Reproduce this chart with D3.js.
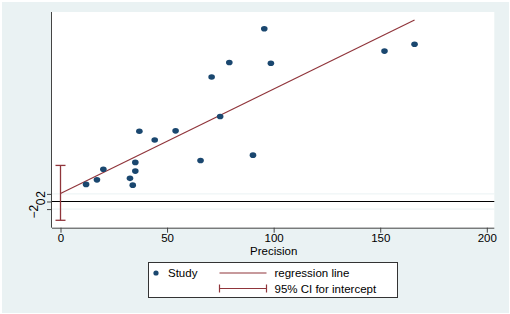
<!DOCTYPE html>
<html><head><meta charset="utf-8">
<script src="https://cdn.jsdelivr.net/npm/d3@7"></script>
<style>body{margin:0;background:#fff}svg{display:block;font-family:"Liberation Sans",Arial,sans-serif}</style>
</head><body><div id="c"></div>
<script>
// Study precision (x) and standardized effect (y)
const precision = [12.0, 17.1, 20.1, 32.6, 33.9, 35.1, 35.1, 37.0, 44.2, 54.0, 65.7, 70.9, 74.9, 79.2, 90.3, 95.6, 98.7, 152.0, 166.1];
const stdEffect = [4.5, 5.7, 8.5, 6.1, 4.3, 8.0, 10.3, 18.5, 16.2, 18.6, 10.8, 32.8, 22.4, 36.6, 12.2, 45.5, 36.4, 39.6, 41.4];
const intercept = 2.1;
const slope = 0.275;
const ciIntercept = [-4.95, 9.5];
const xTicks = [0, 50, 100, 150, 200];
const yTicks = [-2, 0, 2];
const legendLabels = ["Study", "regression line", "95% CI for intercept"];

const W = 510, H = 314;
const svg = d3.select("#c").append("svg").attr("width", W).attr("height", H);
svg.append("rect").attr("x", 0).attr("y", 0).attr("width", W).attr("height", H).attr("fill", "#fff");
svg.append("rect").attr("x", 2).attr("y", 2).attr("width", W - 3).attr("height", H - 3).attr("fill", "#eaf2f3");

const L = 52, R = 494.3, T = 12, B = 227.7;
const x = d3.scaleLinear().domain([0, 200]).range([60.5, 486.8]);
const y = d3.scaleLinear().domain([-6.9, 49.9]).range([B, T]);

svg.append("rect").attr("x", L).attr("y", T).attr("width", R - L).attr("height", B - T).attr("fill", "#fff");

// gridlines
svg.append("g").selectAll("line").data(yTicks.filter(d => d !== 0)).join("line")
  .attr("x1", L).attr("x2", R).attr("y1", d => y(d)).attr("y2", d => y(d))
  .attr("stroke", "#eaf2f3").attr("stroke-width", 1);

// zero line
svg.append("line").attr("x1", L).attr("x2", R).attr("y1", y(0)).attr("y2", y(0))
  .attr("stroke", "#000").attr("stroke-width", 1.2);

// axes
const xAxis = svg.append("g").attr("transform", `translate(0,${B})`)
  .call(d3.axisBottom(x).tickValues(xTicks).tickSize(5).tickPadding(1.5).tickFormat(d3.format("d")));
xAxis.select(".domain").attr("d", `M${L},0.5H${R}`).attr("stroke", "#444");
xAxis.selectAll(".tick line").attr("stroke", "#444");
xAxis.selectAll("text").attr("font-size", 11.5).attr("fill", "#000").attr("font-family", "Liberation Sans, Arial, sans-serif");

const yAxis = svg.append("g").attr("transform", `translate(${L},0)`)
  .call(d3.axisLeft(y).tickValues(yTicks).tickSize(5).tickFormat(d3.format("d")));
yAxis.select(".domain").attr("d", `M-0.5,${T}V${B}`).attr("stroke", "#444");
yAxis.selectAll(".tick line").attr("stroke", "#444");
yAxis.selectAll("text").attr("font-size", 12).attr("fill", "#000")
  .attr("font-family", "Liberation Sans, Arial, sans-serif")
  .attr("text-anchor", "middle").attr("dy", null)
  .attr("transform", d => `translate(${d < 0 ? -18 : -11},${d < 0 ? 2 : 0}) rotate(-90)`).attr("x", 0).attr("y", 0)
  .attr("dominant-baseline", "central");

svg.append("text").attr("x", (x(0) + x(200)) / 2).attr("y", 255).attr("text-anchor", "middle")
  .attr("font-size", 11.5).text("Precision");

const maroon = "#90353b", navy = "#1a476f";

// CI for intercept
const ci = svg.append("g").attr("stroke", maroon).attr("stroke-width", 1.3);
ci.append("line").attr("x1", x(0)).attr("x2", x(0)).attr("y1", y(ciIntercept[0])).attr("y2", y(ciIntercept[1]));
ciIntercept.forEach(v => ci.append("line").attr("x1", x(0) - 5).attr("x2", x(0) + 5).attr("y1", y(v)).attr("y2", y(v)));

// regression line
const xmax = d3.max(precision);
svg.append("line").attr("x1", x(0)).attr("y1", y(intercept)).attr("x2", x(xmax)).attr("y2", y(intercept + slope * xmax))
  .attr("stroke", maroon).attr("stroke-width", 1.2);

// points
svg.append("g").selectAll("ellipse").data(precision).join("ellipse")
  .attr("cx", (d) => x(d)).attr("cy", (d, i) => y(stdEffect[i]))
  .attr("rx", 3.3).attr("ry", 2.8).attr("fill", navy);

// legend
const lg = svg.append("g");
lg.append("rect").attr("x", 148.5).attr("y", 262.5).attr("width", 249).attr("height", 35)
  .attr("fill", "#fff").attr("stroke", "#333").attr("stroke-width", 1);
lg.append("circle").attr("cx", 156).attr("cy", 273).attr("r", 2.6).attr("fill", navy);
lg.append("text").attr("x", 168).attr("y", 277).attr("font-size", 11.5).text(legendLabels[0]);
lg.append("line").attr("x1", 219.5).attr("x2", 266.5).attr("y1", 273).attr("y2", 273).attr("stroke", maroon).attr("stroke-width", 1.2);
lg.append("text").attr("x", 274.5).attr("y", 277).attr("font-size", 11.5).text(legendLabels[1]);
const lc = lg.append("g").attr("stroke", maroon).attr("stroke-width", 1.2);
lc.append("line").attr("x1", 219.5).attr("x2", 266.5).attr("y1", 288.5).attr("y2", 288.5);
lc.append("line").attr("x1", 219.5).attr("x2", 219.5).attr("y1", 284.5).attr("y2", 292.5);
lc.append("line").attr("x1", 266.5).attr("x2", 266.5).attr("y1", 284.5).attr("y2", 292.5);
lg.append("text").attr("x", 274.5).attr("y", 292.5).attr("font-size", 11.5).text(legendLabels[2]);
</script></body></html>
